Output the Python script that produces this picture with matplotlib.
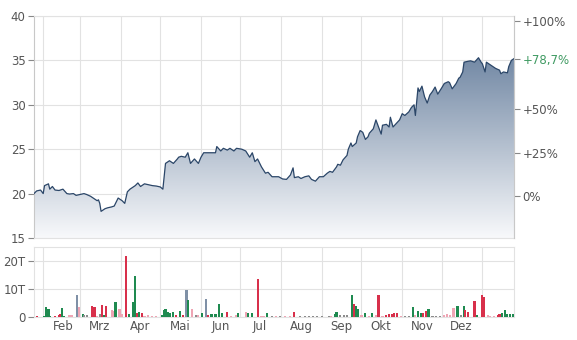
import numpy as np
import pandas as pd
import matplotlib
matplotlib.use("Agg")
import matplotlib.pyplot as plt
import matplotlib.dates as mdates
from matplotlib.colors import LinearSegmentedColormap
from matplotlib.patches import PathPatch

# price series
price_dates = [
    "2023-01-25", "2023-01-27", "2023-01-30", "2023-02-01", "2023-02-02", "2023-02-05",
    "2023-02-06", "2023-02-08", "2023-02-10", "2023-02-13", "2023-02-16", "2023-02-19",
    "2023-02-21", "2023-02-24", "2023-02-26", "2023-03-01", "2023-03-04", "2023-03-06",
    "2023-03-09", "2023-03-11", "2023-03-14", "2023-03-15", "2023-03-16", "2023-03-17",
    "2023-03-20", "2023-03-22", "2023-03-25", "2023-03-27", "2023-03-30", "2023-04-02",
    "2023-04-04", "2023-04-06", "2023-04-08", "2023-04-12", "2023-04-14", "2023-04-16",
    "2023-04-19", "2023-04-22", "2023-04-25", "2023-04-28", "2023-05-01", "2023-05-03",
    "2023-05-05", "2023-05-08", "2023-05-11", "2023-05-14", "2023-05-15", "2023-05-17",
    "2023-05-20", "2023-05-22", "2023-05-24", "2023-05-27", "2023-05-30", "2023-06-01",
    "2023-06-03", "2023-06-08", "2023-06-12", "2023-06-13", "2023-06-16", "2023-06-18",
    "2023-06-21", "2023-06-23", "2023-06-26", "2023-06-28", "2023-07-02", "2023-07-05",
    "2023-07-08", "2023-07-10", "2023-07-12", "2023-07-14", "2023-07-17", "2023-07-20",
    "2023-07-22", "2023-07-25", "2023-07-27", "2023-07-30", "2023-08-02", "2023-08-05",
    "2023-08-08", "2023-08-10", "2023-08-11", "2023-08-14", "2023-08-16", "2023-08-19",
    "2023-08-22", "2023-08-24", "2023-08-27", "2023-08-30", "2023-09-02", "2023-09-05",
    "2023-09-07", "2023-09-09", "2023-09-12", "2023-09-13", "2023-09-15", "2023-09-17",
    "2023-09-20", "2023-09-21", "2023-09-23", "2023-09-24", "2023-09-27", "2023-09-28",
    "2023-09-30", "2023-10-02", "2023-10-04", "2023-10-06", "2023-10-07", "2023-10-10",
    "2023-10-12", "2023-10-14", "2023-10-16", "2023-10-17", "2023-10-20", "2023-10-22",
    "2023-10-23", "2023-10-25", "2023-10-30", "2023-11-01", "2023-11-03", "2023-11-06",
    "2023-11-08", "2023-11-10", "2023-11-11", "2023-11-13", "2023-11-14", "2023-11-16",
    "2023-11-18", "2023-11-20", "2023-11-22", "2023-11-24", "2023-11-26", "2023-11-28",
    "2023-12-01", "2023-12-03", "2023-12-06", "2023-12-07", "2023-12-09", "2023-12-11",
    "2023-12-12", "2023-12-14", "2023-12-15", "2023-12-17", "2023-12-18", "2023-12-21",
    "2023-12-23", "2023-12-26", "2023-12-29", "2023-12-31", "2024-01-01", "2024-01-03",
    "2024-01-04", "2024-01-07", "2024-01-09", "2024-01-11", "2024-01-14", "2024-01-15",
    "2024-01-17", "2024-01-20", "2024-01-21", "2024-01-23", "2024-01-25",
]
price_vals = [
    20.0, 20.3, 20.4, 20.0, 20.9, 21.1,
    20.5, 20.8, 20.4, 20.35, 20.5, 20.0,
    19.95, 20.0, 19.8, 19.9, 20.0, 19.9,
    19.7, 19.5, 19.2, 19.3, 18.9, 18.0,
    18.3, 18.4, 18.5, 18.6, 19.5, 19.2,
    18.9, 20.2, 20.5, 20.9, 21.2, 20.8,
    21.1, 21.0, 20.9, 20.85, 20.75, 20.5,
    23.4, 23.7, 23.4, 23.9, 24.1, 24.2,
    24.1, 24.6, 23.4, 23.9, 23.4, 24.1,
    24.6, 24.6, 24.6, 25.3, 24.8, 25.1,
    24.9, 25.1, 24.8, 25.1, 25.0, 24.8,
    24.1, 24.6, 23.6, 23.9, 23.0, 22.3,
    22.4, 21.9, 21.9, 21.9, 21.65, 21.6,
    22.1, 22.9, 21.8, 21.9, 21.7, 21.9,
    22.0, 21.6, 21.4, 21.9, 21.9, 22.3,
    22.5, 22.4, 23.0, 23.3, 23.2, 23.8,
    24.3, 25.0, 25.7, 25.3, 25.7, 26.4,
    27.1, 26.9, 26.1, 26.4, 26.8, 27.3,
    28.3, 27.5, 26.7, 27.7, 27.8, 27.5,
    28.6, 27.5, 28.3, 29.0, 28.8, 29.2,
    29.7, 30.0, 28.8, 31.9, 31.5, 32.1,
    30.9, 30.2, 31.1, 31.5, 32.0, 31.2,
    31.9, 32.4, 32.6, 32.5, 31.8, 32.2,
    32.4, 33.0, 33.1, 33.7, 34.8, 34.9,
    34.95, 34.8, 35.3, 34.8, 34.6, 33.7,
    34.8, 34.5, 34.3, 34.1, 33.9, 33.5,
    33.7, 33.6, 34.3, 35.0, 35.2,
]
base_price = 19.70
pct_ticks = [0, 25, 50, 100]
pct_labels = ["0%", "+25%", "+50%", "+100%"]
last_pct_label = "+78,7%"

# volume bars (in thousands "T")
vol_dates = [
    "2023-01-27", "2023-02-02", "2023-02-03", "2023-02-05", "2023-02-06", "2023-02-10",
    "2023-02-13", "2023-02-14", "2023-02-15", "2023-02-17", "2023-02-21", "2023-02-23",
    "2023-02-27", "2023-02-28", "2023-03-03", "2023-03-04", "2023-03-06", "2023-03-10",
    "2023-03-12", "2023-03-14", "2023-03-16", "2023-03-18", "2023-03-19", "2023-03-21",
    "2023-03-25", "2023-03-27", "2023-03-28", "2023-03-31", "2023-04-02", "2023-04-05",
    "2023-04-07", "2023-04-10", "2023-04-12", "2023-04-13", "2023-04-15", "2023-04-17",
    "2023-04-19", "2023-04-22", "2023-04-25", "2023-04-28", "2023-05-02", "2023-05-04",
    "2023-05-05", "2023-05-07", "2023-05-08", "2023-05-11", "2023-05-13", "2023-05-16",
    "2023-05-18", "2023-05-21", "2023-05-22", "2023-05-25", "2023-05-28", "2023-05-30",
    "2023-06-02", "2023-06-05", "2023-06-06", "2023-06-09", "2023-06-12", "2023-06-15",
    "2023-06-17", "2023-06-21", "2023-06-24", "2023-06-28", "2023-06-29", "2023-07-05",
    "2023-07-07", "2023-07-10", "2023-07-14", "2023-07-17", "2023-07-19", "2023-07-21",
    "2023-07-25", "2023-07-28", "2023-07-31", "2023-08-04", "2023-08-08", "2023-08-11",
    "2023-08-15", "2023-08-19", "2023-08-22", "2023-08-25", "2023-08-28", "2023-09-01",
    "2023-09-06", "2023-09-08", "2023-09-11", "2023-09-12", "2023-09-15", "2023-09-18",
    "2023-09-20", "2023-09-24", "2023-09-25", "2023-09-27", "2023-09-28", "2023-10-01",
    "2023-10-04", "2023-10-07", "2023-10-09", "2023-10-12", "2023-10-14", "2023-10-17",
    "2023-10-20", "2023-10-22", "2023-10-24", "2023-10-26", "2023-10-28", "2023-10-31",
    "2023-11-03", "2023-11-06", "2023-11-09", "2023-11-11", "2023-11-13", "2023-11-15",
    "2023-11-17", "2023-11-19", "2023-11-21", "2023-11-24", "2023-11-27", "2023-11-30",
    "2023-12-03", "2023-12-05", "2023-12-07", "2023-12-10", "2023-12-13", "2023-12-16",
    "2023-12-18", "2023-12-19", "2023-12-21", "2023-12-26", "2023-12-28", "2024-01-01",
    "2024-01-02", "2024-01-05", "2024-01-07", "2024-01-10", "2024-01-13", "2024-01-14",
    "2024-01-16", "2024-01-18", "2024-01-20", "2024-01-22", "2024-01-24",
]
vol_vals = [
    0.5, 0.3, 3.5, 2.8, 0.5, 0.3,
    0.8, 1.0, 3.2, 0.4, 0.7, 0.7,
    7.9, 3.5, 1.0, 0.8, 0.7, 3.9,
    3.6, 0.5, 1.0, 4.3, 0.6, 3.9,
    2.5, 2.3, 5.2, 2.7, 1.0, 21.8,
    1.0, 5.2, 14.6, 1.3, 1.9, 1.3,
    0.5, 0.6, 0.3, 0.4, 0.8, 2.5,
    2.7, 1.9, 1.3, 1.9, 0.6, 2.1,
    0.6, 9.6, 6.1, 2.7, 0.8, 0.8,
    1.3, 6.3, 0.6, 1.0, 1.0, 4.5,
    1.4, 1.8, 0.5, 0.8, 1.4, 1.9,
    1.3, 1.3, 13.6, 0.5, 0.5, 1.5,
    0.4, 0.3, 0.3, 0.3, 0.4, 1.9,
    0.3, 0.4, 0.3, 0.3, 0.3, 0.3,
    0.5, 0.5, 1.0, 1.9, 0.6, 0.6,
    0.7, 7.9, 4.8, 3.9, 2.8, 0.6,
    1.3, 0.5, 1.4, 0.6, 7.9, 0.5,
    0.8, 1.0, 1.2, 1.6, 1.4, 0.5,
    0.4, 0.3, 3.7, 0.6, 2.1, 1.3,
    1.3, 2.1, 2.7, 0.3, 0.3, 0.3,
    0.8, 1.0, 0.8, 3.3, 3.9, 0.6,
    3.9, 2.5, 1.9, 5.7, 0.6, 7.9,
    7.3, 0.6, 0.4, 0.4, 0.8, 1.0,
    1.3, 2.5, 1.0, 1.0, 1.0,
]
# g = up, r = down, b = grey-blue, p = light red, k = neutral
vol_kinds = [
    "r", "g", "g", "g", "g", "r",
    "r", "r", "g", "g", "p", "p",
    "b", "p", "g", "k", "k", "r",
    "r", "p", "k", "r", "g", "r",
    "p", "p", "g", "p", "p", "r",
    "g", "g", "g", "r", "g", "r",
    "p", "p", "p", "p", "g", "g",
    "g", "g", "g", "g", "r", "g",
    "r", "b", "g", "p", "k", "p",
    "g", "b", "r", "g", "g", "g",
    "g", "r", "p", "p", "g", "p",
    "g", "g", "r", "p", "p", "g",
    "k", "p", "k", "p", "p", "r",
    "k", "k", "k", "k", "k", "k",
    "k", "p", "g", "g", "k", "k",
    "k", "g", "r", "g", "g", "p",
    "g", "p", "g", "p", "r", "p",
    "r", "r", "r", "r", "r", "p",
    "k", "k", "g", "p", "g", "g",
    "r", "r", "g", "k", "k", "k",
    "p", "p", "p", "p", "g", "k",
    "g", "r", "r", "r", "g", "r",
    "r", "p", "p", "p", "r", "r",
    "g", "g", "g", "g", "g",
]
kind_colors = {"g": "#1f8a50", "r": "#d8304b", "b": "#7f90a6", "p": "#eea5b4", "k": "#8c8c8c"}

x_start, x_end = "2023-01-25", "2024-01-25"

grid_c = "#e2e2e2"
text_c = "#555555"
plt.rcParams["font.family"] = ["DejaVu Sans"]
plt.rcParams["font.size"] = 8

fig = plt.figure(figsize=(5.77, 3.40), dpi=100)
ax = fig.add_axes([34 / 577, 102 / 340, 480 / 577, 222 / 340])
axv = fig.add_axes([34 / 577, 23 / 340, 480 / 577, 70 / 340])

pd_dates = mdates.date2num(pd.to_datetime(price_dates))
prices = np.array(price_vals)
x0 = mdates.date2num(pd.Timestamp(x_start))
x1 = mdates.date2num(pd.Timestamp(x_end))

# gradient area under the price line
poly = ax.fill_between(pd_dates, prices, 15, color="none", lw=0)
cmap = LinearSegmentedColormap.from_list("area", ["#f8f9fb", "#7389a5"])
grad = np.linspace(0, 1, 256).reshape(-1, 1)
img = ax.imshow(grad, extent=[x0, x1, 15, prices.max()], aspect="auto",
                origin="lower", cmap=cmap, zorder=1)
clip = PathPatch(poly.get_paths()[0], transform=ax.transData, fc="none", ec="none")
ax.add_patch(clip)
img.set_clip_path(clip)
ax.plot(pd_dates, prices, color="#2b4668", lw=0.9, zorder=3)

ax.set_xlim(x0, x1)
ax.set_ylim(15, 40)
ax.set_yticks([15, 20, 25, 30, 35, 40])
ax.xaxis.set_major_locator(mdates.MonthLocator())
ax.xaxis.set_major_formatter(plt.NullFormatter())
ax.tick_params(axis="x", length=0)
ax.tick_params(axis="y", length=4, color="#888888", labelcolor=text_c, labelsize=8.5, pad=2)
ax.grid(True, color=grid_c, lw=0.8, zorder=0)
ax.set_axisbelow(True)
for s in ax.spines.values():
    s.set_color(grid_c)
ax.spines["left"].set_color("#c8c8c8")

# percent axis on the right
axr = ax.twinx()
axr.set_ylim(15, 40)
last_price = prices[-1]
r_ticks = [base_price * (1 + p / 100) for p in pct_ticks] + [last_price]
axr.set_yticks(r_ticks)
axr.set_yticklabels(pct_labels + [last_pct_label])
axr.tick_params(axis="y", length=4, color="#888888", labelcolor=text_c, labelsize=8.5, pad=2)
axr.get_yticklabels()[-1].set_color("#3f9a62")
for s in axr.spines.values():
    s.set_visible(False)
axr.spines["right"].set_visible(True)
axr.spines["right"].set_color("#c8c8c8")

# volume panel
vd = mdates.date2num(pd.to_datetime(vol_dates))
axv.bar(vd, vol_vals, width=1.6, color=[kind_colors[k] for k in vol_kinds],
        lw=0, zorder=3)
axv.set_xlim(x0, x1)
axv.set_ylim(0, 25)
axv.set_yticks([0, 10, 20])
axv.set_yticklabels(["0", "10T", "20T"])
axv.xaxis.set_major_locator(mdates.MonthLocator())
axv.xaxis.set_major_formatter(plt.NullFormatter())
axv.xaxis.set_minor_locator(mdates.MonthLocator(bymonthday=16))
month_de = {"Jan": "Jan", "Feb": "Feb", "Mar": "Mrz", "Apr": "Apr", "May": "Mai",
            "Jun": "Jun", "Jul": "Jul", "Aug": "Aug", "Sep": "Sep", "Oct": "Okt",
            "Nov": "Nov", "Dec": "Dez"}
axv.xaxis.set_minor_formatter(plt.FuncFormatter(
    lambda v, p: month_de[mdates.num2date(v).strftime("%b")]
    if v < x1 - 20 else ""))
axv.tick_params(axis="x", which="both", length=0, labelcolor=text_c, labelsize=8.5, pad=2)
axv.tick_params(axis="y", length=4, color="#888888", labelcolor=text_c, labelsize=8.5, pad=2)
axv.grid(True, which="major", color=grid_c, lw=0.8, zorder=0)
axv.set_axisbelow(True)
for s in axv.spines.values():
    s.set_color(grid_c)

fig.savefig("out.png", dpi=100)
